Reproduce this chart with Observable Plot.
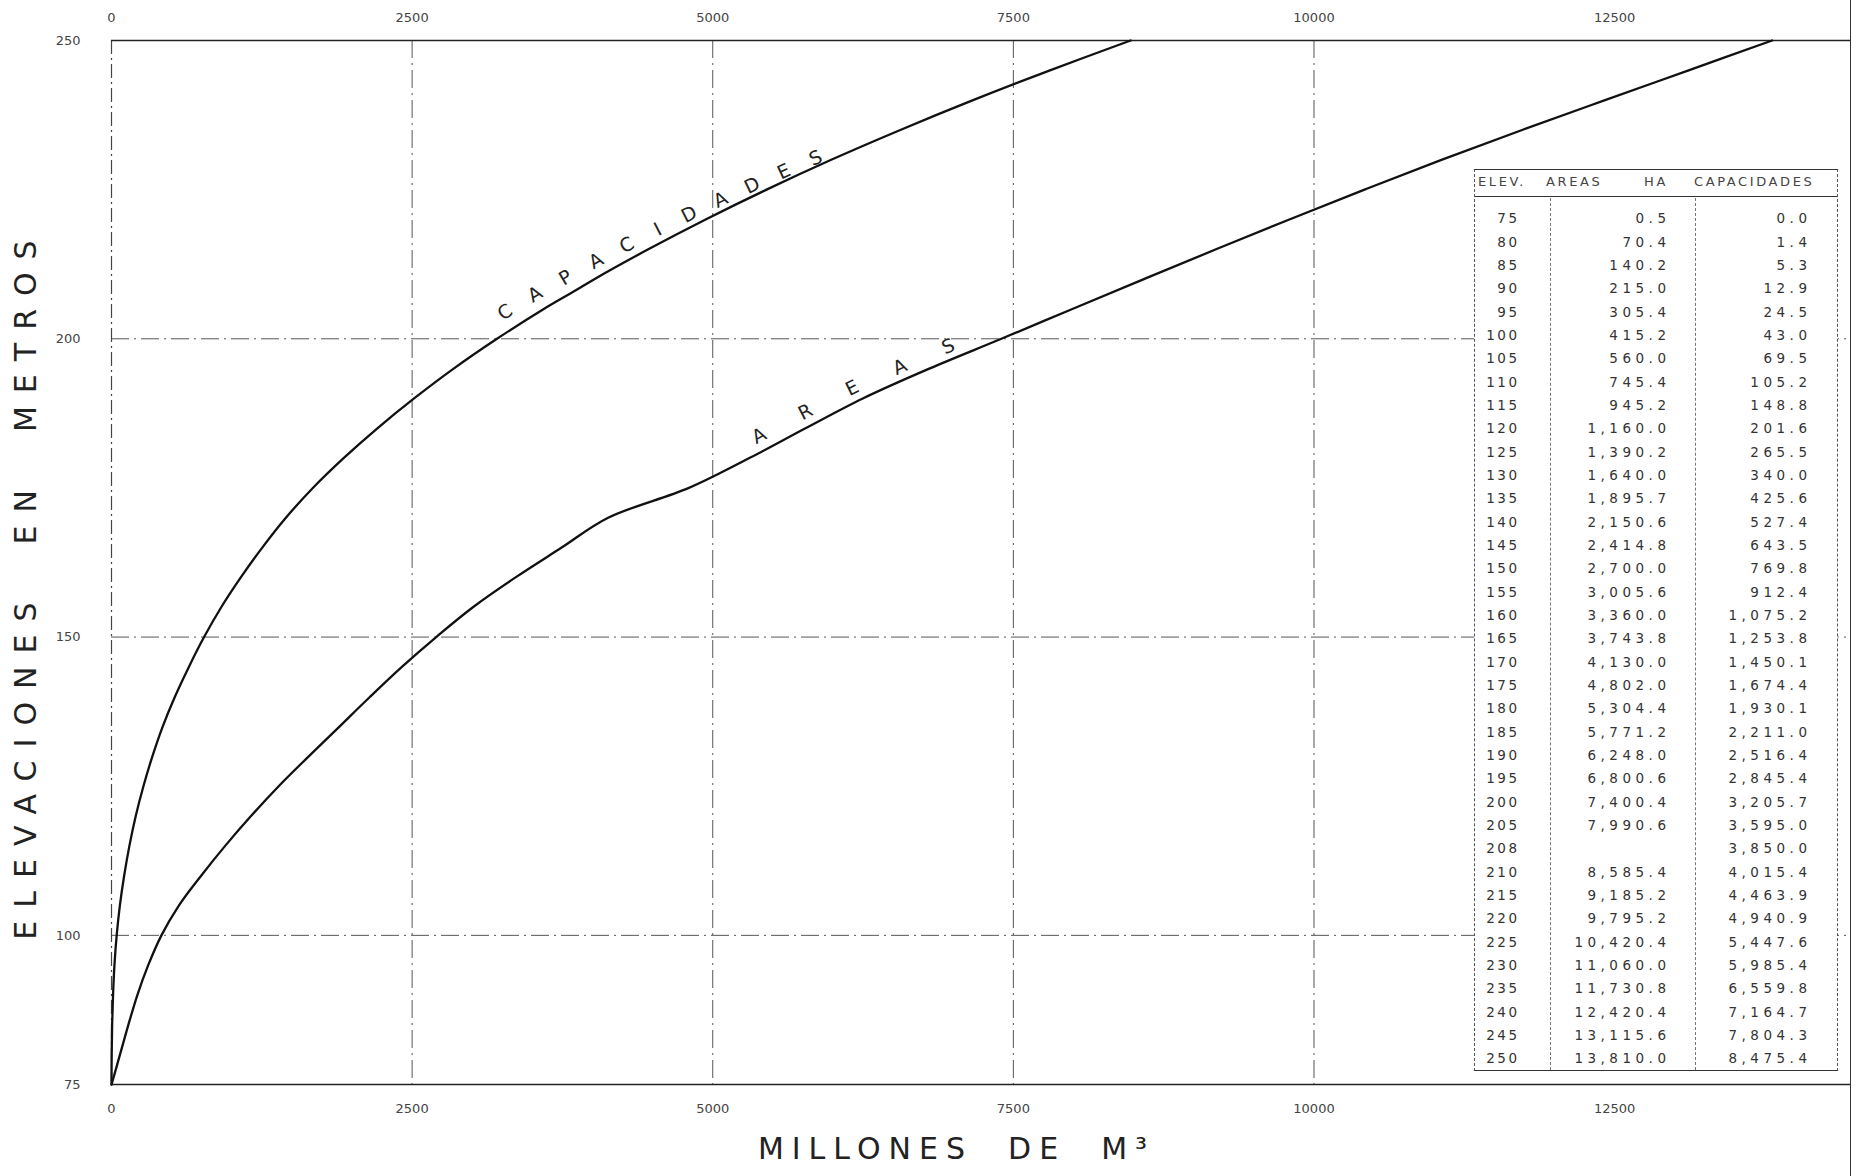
<!DOCTYPE html>
<html>
<head>
<meta charset="utf-8">
<script src="https://cdn.jsdelivr.net/npm/d3@7"></script>
<script src="https://cdn.jsdelivr.net/npm/@observablehq/plot@0.6"></script>
<style>
  html, body { margin: 0; padding: 0; background: #fff; }
  #wrap { position: relative; width: 1856px; height: 1176px; overflow: hidden; font-family: "DejaVu Sans", "Liberation Sans", sans-serif; background: #fff; }
  #wrap svg { position: absolute; left: 0; top: 0; }
  #edge { position: absolute; left: 1850px; top: 0; width: 0; height: 1176px; border-left: 1.3px solid #333; }
  #tbl { position: absolute; left: 1474px; top: 169px; width: 364px; height: 902px; background: #fff;
         border-top: 1.6px solid #333; border-bottom: 1.6px solid #333; border-left: 1.2px dashed #555; border-right: 1.2px dashed #555; box-sizing: border-box; color: #333; }
  #tbl .hdr { position: absolute; top: 4px; font-size: 13px; letter-spacing: 2.6px; color: #444; white-space: pre; }
  #tbl .hline { position: absolute; left: 0; right: 0; top: 26px; border-top: 1.6px solid #333; }
  #tbl .sep { position: absolute; top: 28px; bottom: 0; border-left: 1px dashed #777; }
  #tbl .row { position: absolute; left: 0; right: 0; height: 23.3px; line-height: 23.3px; font-size: 13.5px; }
  #tbl .row span { position: absolute; letter-spacing: 4.5px; white-space: pre; }
  #tbl .row span.el { letter-spacing: 2.5px; }
</style>
</head>
<body>
<div id="wrap"></div>
<script>
// ---- data ----
const elevations = [75,80,85,90,95,100,105,110,115,120,125,130,135,140,145,150,155,160,165,170,175,180,185,190,195,200,205,208,210,215,220,225,230,235,240,245,250];
const areas = [0.5,70.4,140.2,215.0,305.4,415.2,560.0,745.4,945.2,1160.0,1390.2,1640.0,1895.7,2150.6,2414.8,2700.0,3005.6,3360.0,3743.8,4130.0,4802.0,5304.4,5771.2,6248.0,6800.6,7400.4,7990.6,null,8585.4,9185.2,9795.2,10420.4,11060.0,11730.8,12420.4,13115.6,13810.0];
const capacities = [0.0,1.4,5.3,12.9,24.5,43.0,69.5,105.2,148.8,201.6,265.5,340.0,425.6,527.4,643.5,769.8,912.4,1075.2,1253.8,1450.1,1674.4,1930.1,2211.0,2516.4,2845.4,3205.7,3595.0,3850.0,4015.4,4463.9,4940.9,5447.6,5985.4,6559.8,7164.7,7804.3,8475.4];
const xTicks = [0,2500,5000,7500,10000,12500];
const yTicks = [75,100,150,200,250];
const xGrid = [2500,5000,7500,10000];
const yGrid = [100,150,200];
const xDomain = [0,14470];
const yDomain = [75,250];
const tableHeader = ["ELEV.", "AREAS", "HA", "CAPACIDADES"];
const capLabel = "CAPACIDADES";
const areaLabel = "AREAS";
const xTitle = "MILLONES  DE  M³";
const yTitle = "ELEVACIONES  EN  METROS";

// ---- layout ----
const W = 1856, H = 1176, mL = 111, mR = 5, mT = 40, mB = 92;
const px = v => mL + (v - xDomain[0]) / (xDomain[1] - xDomain[0]) * (W - mL - mR);
const py = e => mT + (yDomain[1] - e) / (yDomain[1] - yDomain[0]) * (H - mT - mB);
const ix = p => xDomain[0] + (p - mL) / (W - mL - mR) * (xDomain[1] - xDomain[0]);
const iy = p => yDomain[1] - (p - mT) / (H - mT - mB) * (yDomain[1] - yDomain[0]);

const capData = elevations.map((e, i) => ({e, v: capacities[i]}));
const areaData = elevations.map((e, i) => ({e, v: areas[i]})).filter(d => d.v != null);

// letters placed along a curve (positions derived from the series through the scales)
function lettersAlong(data, text, startE, spacing, offset0, offset1) {
  const pts = data.map(d => [px(d.v), py(d.e)]);
  const L = [0];
  for (let i = 1; i < pts.length; i++) L.push(L[i-1] + Math.hypot(pts[i][0]-pts[i-1][0], pts[i][1]-pts[i-1][1]));
  function at(s) {
    let i = 1;
    while (i < pts.length - 1 && L[i] < s) i++;
    const t = (s - L[i-1]) / (L[i] - L[i-1]);
    return [pts[i-1][0] + t*(pts[i][0]-pts[i-1][0]), pts[i-1][1] + t*(pts[i][1]-pts[i-1][1])];
  }
  let k = 1;
  while (k < data.length - 1 && data[k].e < startE) k++;
  const t0 = (startE - data[k-1].e) / (data[k].e - data[k-1].e);
  const s0 = L[k-1] + t0 * (L[k] - L[k-1]);
  const chars = [...text];
  return chars.map((ch, j) => {
    const s = s0 + j * spacing;
    const off = offset0 + (offset1 - offset0) * j / (chars.length - 1);
    const p = at(s), a = at(s - 22), b = at(s + 22);
    let tx = b[0]-a[0], ty = b[1]-a[1];
    const n = Math.hypot(tx, ty); tx /= n; ty /= n;
    const qx = p[0] + off * ty, qy = p[1] - off * tx;
    return {x: ix(qx), y: iy(qy), ch, rot: Math.atan2(ty, tx) * 180 / Math.PI};
  });
}
const capLetters = lettersAlong(capData, capLabel, 201.9, 34.5, 18, 8);
const areaLetters = lettersAlong(areaData, areaLabel, 181.5, 52, 15, 13);

const gridStyle = {stroke: "#555", strokeWidth: 1, strokeDasharray: "18,5,2,5"};

const chart = Plot.plot({
  width: W, height: H,
  marginLeft: mL, marginRight: mR, marginTop: mT, marginBottom: mB,
  x: {domain: xDomain},
  y: {domain: yDomain},
  style: {fontFamily: "DejaVu Sans, sans-serif", background: "transparent", color: "#444"},
  marks: [
    Plot.ruleX(xGrid, gridStyle),
    Plot.ruleY(yGrid, gridStyle),
    Plot.ruleX([xDomain[0]], {stroke: "#444", strokeWidth: 1.2, strokeDasharray: "14,4,2,4"}),
    Plot.ruleY([yDomain[1], yDomain[0]], {stroke: "#222", strokeWidth: 1.7}),
    Plot.line(capData, {x: "v", y: "e", curve: "catmull-rom", stroke: "#111", strokeWidth: 2.3}),
    Plot.line(areaData, {x: "v", y: "e", curve: "catmull-rom", stroke: "#111", strokeWidth: 2.3}),
    Plot.text(capLetters, {x: "x", y: "y", text: "ch", rotate: "rot", fontSize: 19, fill: "#222", textAnchor: "middle", lineAnchor: "middle"}),
    Plot.text(areaLetters, {x: "x", y: "y", text: "ch", rotate: "rot", fontSize: 19, fill: "#222", textAnchor: "middle", lineAnchor: "middle"}),
    Plot.axisX(xTicks, {anchor: "top", tickSize: 0, tickPadding: 19, fontSize: 13, label: null, tickFormat: d => String(d)}),
    Plot.axisX(xTicks, {anchor: "bottom", tickSize: 0, tickPadding: 19, fontSize: 13, label: null, tickFormat: d => String(d)}),
    Plot.axisY(yTicks, {anchor: "left", tickSize: 0, tickPadding: 31, fontSize: 13, label: null, tickFormat: d => String(d)}),
    Plot.text([xTitle], {frameAnchor: "bottom", textAnchor: "middle", dx: -25, dy: 74, fontSize: 30, fill: "#222"}),
    Plot.text([yTitle], {frameAnchor: "left", textAnchor: "middle", lineAnchor: "middle", dx: -85, dy: 21, rotate: -90, fontSize: 30, fill: "#222"})
  ]
});
const wrap = document.getElementById("wrap");
wrap.appendChild(chart);
d3.select(chart).selectAll("text").filter(function() { return this.textContent === yTitle; }).style("letter-spacing", "13px");
d3.select(chart).selectAll("text").filter(function() { return this.textContent === xTitle; }).style("letter-spacing", "8px");

const edge = document.createElement("div");
edge.id = "edge";
wrap.appendChild(edge);

// ---- the table (HTML overlay) ----
const tbl = d3.select(wrap).append("div").attr("id", "tbl");
const hdrPos = [3, 71, 169, 219];
tableHeader.forEach((t, i) => tbl.append("div").attr("class", "hdr").style("left", hdrPos[i] + "px").text(t));
tbl.append("div").attr("class", "hline");
tbl.append("div").attr("class", "sep").style("left", "75px");
tbl.append("div").attr("class", "sep").style("left", "220px");
const fmt = d3.format(",.1f");
const rowPitch = (1058 - 218) / (elevations.length - 1);
const colRight = [44, 193, 334];
elevations.forEach((e, i) => {
  const r = tbl.append("div").attr("class", "row").style("top", (218 - 169 - rowPitch / 2 + i * rowPitch) + "px");
  r.append("span").attr("class", "el").style("right", (364 - colRight[0] - 2.5) + "px").text(String(e));
  r.append("span").style("right", (364 - colRight[1] - 4.5) + "px").text(areas[i] == null ? "" : fmt(areas[i]));
  r.append("span").style("right", (364 - colRight[2] - 4.5) + "px").text(fmt(capacities[i]));
});
</script>
</body>
</html>
